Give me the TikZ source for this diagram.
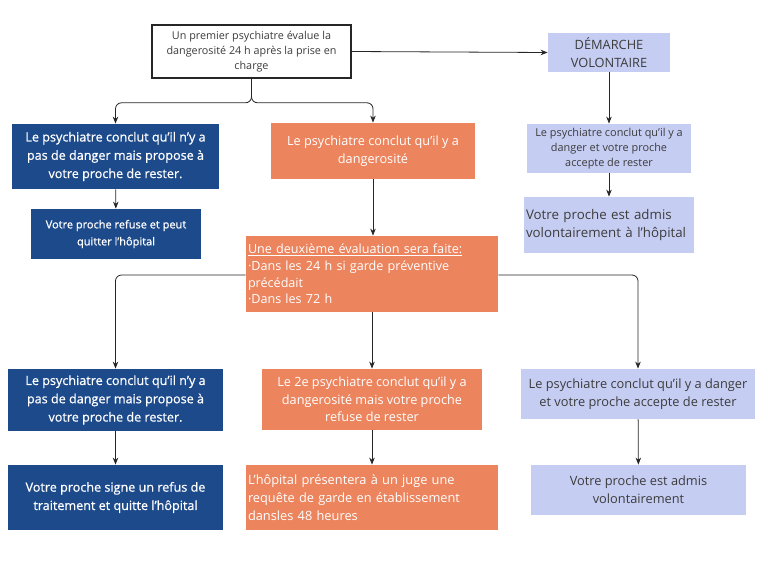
\documentclass[tikz,border=0pt]{standalone}
\usepackage{fontspec}
\setmainfont{Open Sans}
\newfontfamily\semibold[FakeBold=0.7]{Open Sans}
\usetikzlibrary{arrows.meta}
\definecolor{darkblue}{HTML}{1C4A8B}
\definecolor{salmon}{HTML}{EC845E}
\definecolor{lavender}{HTML}{C6CDF2}
\definecolor{inkgray}{HTML}{3C3C3C}

\begin{document}
\begin{tikzpicture}[x=1pt,y=-1pt,line width=0.8pt,draw=black!85,>={Stealth[length=7pt,width=5.5pt]}]
    \tikzstyle{box}=[rectangle,inner sep=4pt,align=center]
    \tikzstyle{start box}=[box,draw=black!85,line width=1.6pt,fill=white,text=inkgray,font=\fontsize{10.8}{15}\selectfont]
    \tikzstyle{blue box}=[box,fill=darkblue,text=white,font=\semibold\fontsize{12.6}{18.3}\selectfont]
    \tikzstyle{salmon box}=[box,fill=salmon,text=white,font=\fontsize{12.7}{17.5}\selectfont]
    \tikzstyle{lav box}=[box,fill=lavender,text=inkgray,font=\fontsize{12.8}{18}\selectfont]
    \tikzstyle{link}=[->,rounded corners=6pt]

    \useasboundingbox (0,0) rectangle (767,565);

    % First evaluation and voluntary path
    \node[start box,minimum width=199pt,minimum height=53pt] (first) at (251.5,51.5)
        {Un premier psychiatre évalue la\\dangerosité 24 h après la prise en\\charge};
    \node[lav box,minimum width=122pt,minimum height=35pt] (vol) at (609,52.5)
        {DÉMARCHE\\VOLONTAIRE};
    \node[lav box,font=\fontsize{10.9}{15}\selectfont,minimum width=164pt,minimum height=49pt] (vol-1) at (609,148.5)
        {Le psychiatre conclut qu’il y a\\danger et votre proche\\accepte de rester};
    \node[lav box,align=left,font=\fontsize{13.3}{17.7}\selectfont,minimum width=170pt,minimum height=56pt,text width=166pt,inner sep=2pt] (vol-2) at (609,225)
        {Votre proche est admis\\volontairement à l’hôpital};

    % Outcome of the first evaluation
    \node[blue box,minimum width=207pt,minimum height=65pt] (nodanger-1) at (115.5,156.5)
        {Le psychiatre conclut qu’il n’y a\\pas de danger mais propose à\\votre proche de rester.};
    \node[blue box,font=\semibold\fontsize{11}{17}\selectfont,minimum width=170pt,minimum height=50pt] (nodanger-2) at (116,234)
        {Votre proche refuse et peut\\quitter l’hôpital};
    \node[salmon box,minimum width=204pt,minimum height=56pt] (danger) at (373,151)
        {Le psychiatre conclut qu’il y a\\dangerosité};

    % Second evaluation
    \node[salmon box,align=left,font=\fontsize{12.6}{16.7}\selectfont,minimum width=252pt,minimum height=76pt,text width=248pt,inner sep=2pt] (second) at (372,274)
        {\underline{Une deuxième évaluation sera faite:}\\·Dans les 24 h si garde préventive\\précédait\\·Dans les 72 h};

    % Outcome of the second evaluation
    \node[blue box,minimum width=215pt,minimum height=62pt] (B-1) at (115.5,400)
        {Le psychiatre conclut qu’il n’y a\\pas de danger mais propose à\\votre proche de rester.};
    \node[blue box,minimum width=215pt,minimum height=65pt] (B-2) at (115.5,497.5)
        {Votre proche signe un refus de\\traitement et quitte l’hôpital};
    \node[salmon box,minimum width=220pt,minimum height=61pt] (S-1) at (372,399.5)
        {Le 2e psychiatre conclut qu’il y a\\dangerosité mais votre proche\\refuse de rester};
    \node[salmon box,align=left,font=\fontsize{12.8}{18}\selectfont,minimum width=252pt,minimum height=65pt,text width=248pt,inner sep=2pt] (S-2) at (372,497.5)
        {L’hôpital présentera à un juge une\\requête de garde en établissement\\dansles 48 heures};
    \node[lav box,minimum width=234pt,minimum height=50pt] (L-1) at (638,394)
        {Le psychiatre conclut qu’il y a danger\\et votre proche accepte de rester};
    \node[lav box,minimum width=215pt,minimum height=50pt] (L-2) at (638.5,490)
        {Votre proche est admis\\volontairement};

    % Connect the boxes
    \draw[link] (first.east) -- (vol.west);
    \draw[link] (first.south) -- ++(0,24) -| (nodanger-1.north);
    \draw[link] (first.south) -- ++(0,24) -| (danger.north);
    \foreach \source/\dest in {vol/vol-1,vol-1/vol-2,nodanger-1/nodanger-2,B-1/B-2,S-1/S-2,L-1/L-2}
        \draw[link] (\source) -- (\dest);
    \draw[link] (danger.south) -- (danger.south |- second.north);
    \draw[link] (second.south) -- (S-1.north);
    \draw[link] (second.west |- 0,275) -| (B-1.north);
    \draw[link] (second.east |- 0,275) -| (L-1.north);
\end{tikzpicture}
\end{document}
